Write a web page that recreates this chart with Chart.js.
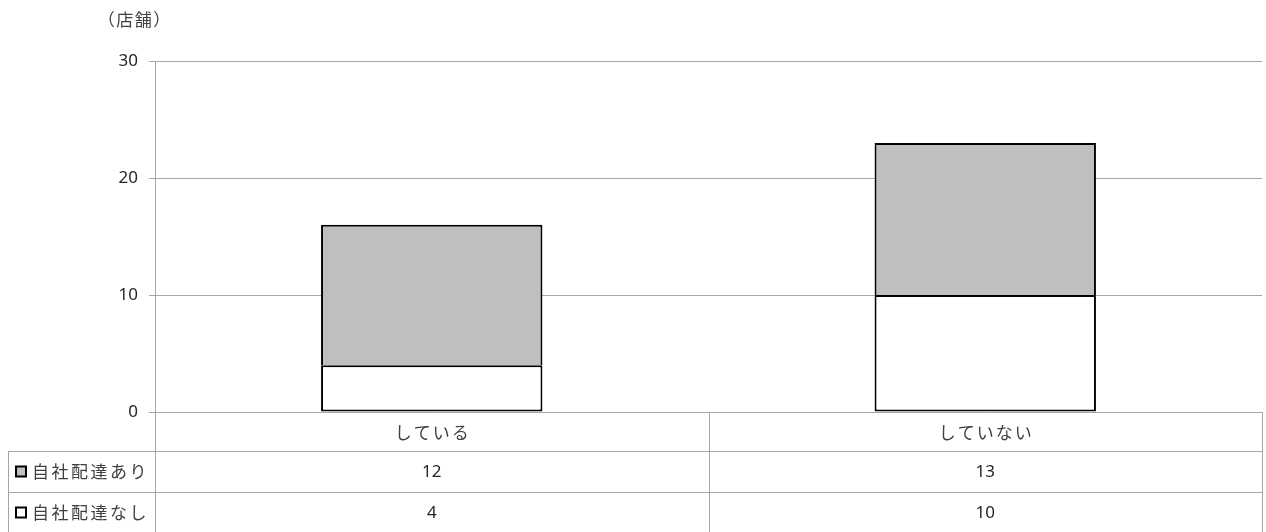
<!DOCTYPE html>
<html>
<head>
<meta charset="utf-8">
<script src="https://cdn.jsdelivr.net/npm/chart.js@4.4.1/dist/chart.umd.min.js"></script>
<style>
  html, body { margin: 0; padding: 0; background: #ffffff; }
  #wrap { width: 1266px; height: 532px; }
</style>
</head>
<body>
<div id="wrap"><canvas id="c" width="1266" height="532"></canvas></div>
<script>
// Categories and series (stores)
const categories = ['している', 'していない'];
const seriesNames = ['自社配達なし', '自社配達あり'];
const withoutDelivery = [4, 10];
const withDelivery = [12, 13];
const yTicks = [0, 10, 20, 30];
const unitLabel = '（店舗）';

const FONT = '"Noto Sans CJK JP", "Noto Sans", sans-serif';
const NUMFONT = '"Noto Sans", "Noto Sans CJK JP", sans-serif';
const LINE = '#a6a6a6';
const TEXT = '#404040';
const fills = ['#ffffff', '#bfbfbf'];

function spacedText(ctx, text, x, y, spacing, align) {
  // draw text glyph by glyph with extra tracking
  let w = 0;
  const widths = [...text].map(ch => ctx.measureText(ch).width);
  widths.forEach(v => { w += v + spacing; });
  w -= spacing;
  let cx = align === 'center' ? x - w / 2 : x;
  const prev = ctx.textAlign;
  ctx.textAlign = 'left';
  [...text].forEach((ch, i) => { ctx.fillText(ch, cx, y); cx += widths[i] + spacing; });
  ctx.textAlign = prev;
}

// Data table drawn below the plot, aligned with the category scale
const dataTable = {
  id: 'dataTable',
  afterDraw(chart) {
    const ctx = chart.ctx;
    const area = chart.chartArea;
    const xs = chart.scales.x;
    const top = area.bottom;
    const headerH = 39, rowH = 41;
    const bottom = chart.height;
    const leftEdge = 8;
    const centers = categories.map((_, i) => xs.getPixelForValue(i));
    const bounds = [area.left];
    for (let i = 0; i < centers.length - 1; i++) bounds.push((centers[i] + centers[i + 1]) / 2);
    bounds.push(area.right);

    ctx.save();
    ctx.strokeStyle = LINE;
    ctx.lineWidth = 1;
    const hLine = (x1, x2, y) => { ctx.beginPath(); ctx.moveTo(x1, Math.round(y) + 0.5); ctx.lineTo(x2, Math.round(y) + 0.5); ctx.stroke(); };
    const vLine = (x, y1, y2) => { ctx.beginPath(); ctx.moveTo(Math.round(x) + 0.5, y1); ctx.lineTo(Math.round(x) + 0.5, y2); ctx.stroke(); };

    bounds.forEach(b => vLine(b, top, bottom));
    vLine(leftEdge, top + headerH, bottom);
    hLine(leftEdge, area.right + 1, top + headerH);
    hLine(leftEdge, area.right + 1, top + headerH + rowH);

    // category labels in the header row
    ctx.textBaseline = 'middle';
    ctx.fillStyle = TEXT;
    ctx.font = '17px ' + FONT;
    categories.forEach((c, i) => spacedText(ctx, c, centers[i], top + headerH / 2 + 1, 2, 'center'));

    // rows: upper series first
    const rows = [
      { name: seriesNames[1], vals: withDelivery, fill: fills[1] },
      { name: seriesNames[0], vals: withoutDelivery, fill: fills[0] }
    ];
    rows.forEach((r, ri) => {
      const cy = top + headerH + rowH * ri + rowH / 2;
      // legend key
      ctx.fillStyle = r.fill;
      ctx.fillRect(16, cy - 5, 10, 10);
      ctx.strokeStyle = '#000000';
      ctx.lineWidth = 2;
      ctx.strokeRect(16, cy - 5, 10, 10);
      ctx.fillStyle = TEXT;
      ctx.font = '17px ' + FONT;
      spacedText(ctx, r.name, 32, cy, 2.5, 'left');
      ctx.fillStyle = '#262626';
      ctx.font = '17px ' + NUMFONT;
      ctx.textAlign = 'center';
      r.vals.forEach((v, i) => ctx.fillText(String(v), centers[i], cy + 1));
    });

    // unit label above the value axis
    ctx.font = '17px ' + FONT;
    ctx.fillStyle = TEXT;
    spacedText(ctx, unitLabel, 134, 20, 1.5, 'center');
    ctx.restore();
  }
};

new Chart(document.getElementById('c'), {
  type: 'bar',
  data: {
    labels: categories,
    datasets: [
      { label: seriesNames[0], data: withoutDelivery, backgroundColor: fills[0], borderSkipped: false },
      { label: seriesNames[1], data: withDelivery, backgroundColor: fills[1], borderSkipped: 'bottom' }
    ].map(d => Object.assign(d, {
      borderColor: '#000000',
      borderWidth: 2,
      barPercentage: 0.4,
      categoryPercentage: 1.0
    }))
  },
  options: {
    responsive: false,
    animation: false,
    layout: { padding: { top: 61, right: 4, left: 0, bottom: 0 } },
    plugins: { legend: { display: false }, tooltip: { enabled: false }, title: { display: false } },
    scales: {
      x: {
        stacked: true,
        offset: true,
        grid: { display: false },
        border: { display: false },
        ticks: { display: false },
        afterFit(s) { s.height = 120; }
      },
      y: {
        stacked: true,
        min: 0,
        max: 30,
        afterBuildTicks(s) { s.ticks = yTicks.map(v => ({ value: v })); },
        grid: { color: LINE, tickLength: 6, lineWidth: 1 },
        border: { display: true, color: LINE, width: 1 },
        ticks: { color: '#262626', font: { family: NUMFONT, size: 17 }, padding: 11 },
        afterFit(s) { s.width = 155; }
      }
    }
  },
  plugins: [dataTable]
});
</script>
</body>
</html>
